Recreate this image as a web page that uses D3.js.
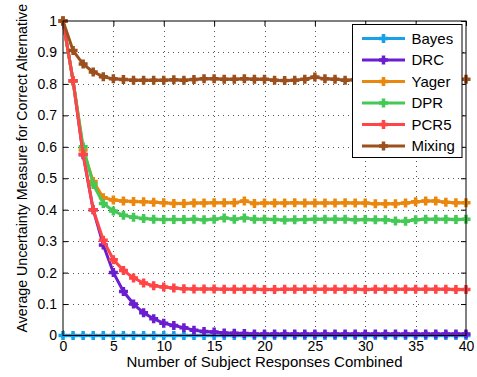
<!DOCTYPE html>
<html><head><meta charset="utf-8">
<script src="https://cdn.jsdelivr.net/npm/d3@7"></script>
<style>body{margin:0;background:#fff}svg{display:block}text{font-family:"Liberation Sans",Arial,sans-serif}</style>
</head><body><div id="chart"></div>
<script>
const xValues = d3.range(0, 41);
const seriesNames = ["Bayes", "DRC", "Yager", "DPR", "PCR5", "Mixing"];
const seriesColors = ["#18a0e8", "#6a1ed0", "#ea870e", "#44c957", "#ff4646", "#9c501e"];
const bayes = new Array(41).fill(0);
const drc = [1.0,0.81,0.575,0.40,0.288,0.20,0.14,0.10,0.072,0.053,0.039,0.032,0.025,0.017,0.013,0.011,0.008,0.007,0.006,0.005,0.005,0.005,0.005,0.005,0.005,0.005,0.005,0.005,0.005,0.005,0.005,0.005,0.005,0.005,0.005,0.005,0.005,0.005,0.005,0.005,0.005];
const yager = [1.0,0.81,0.59,0.49,0.438,0.431,0.428,0.426,0.425,0.424,0.422,0.42,0.42,0.421,0.421,0.422,0.422,0.422,0.428,0.42,0.421,0.421,0.421,0.422,0.421,0.421,0.421,0.421,0.422,0.421,0.421,0.419,0.419,0.419,0.421,0.425,0.428,0.428,0.424,0.422,0.422];
const dpr = [1.0,0.81,0.60,0.48,0.42,0.396,0.382,0.376,0.372,0.37,0.369,0.369,0.369,0.37,0.368,0.37,0.374,0.37,0.374,0.37,0.37,0.369,0.367,0.368,0.369,0.37,0.37,0.37,0.37,0.368,0.369,0.368,0.368,0.364,0.363,0.368,0.37,0.37,0.37,0.369,0.37];
const pcr5 = [1.0,0.81,0.576,0.40,0.303,0.241,0.207,0.183,0.167,0.158,0.154,0.151,0.149,0.148,0.148,0.148,0.147,0.147,0.147,0.147,0.146,0.146,0.147,0.147,0.147,0.147,0.147,0.147,0.147,0.147,0.146,0.147,0.147,0.147,0.147,0.147,0.147,0.147,0.147,0.146,0.146];
const mixing = [1.0,0.906,0.863,0.838,0.823,0.816,0.814,0.812,0.812,0.812,0.812,0.813,0.812,0.814,0.816,0.816,0.815,0.815,0.816,0.815,0.815,0.812,0.811,0.812,0.815,0.822,0.816,0.815,0.812,0.813,0.813,0.813,0.813,0.813,0.813,0.813,0.813,0.813,0.813,0.813,0.815];
const seriesValues = [bayes, drc, yager, dpr, pcr5, mixing];
const xTicks = [0,5,10,15,20,25,30,35,40];
const yTicks = [0,0.1,0.2,0.3,0.4,0.5,0.6,0.7,0.8,0.9,1];
const yTickLabels = ["0","0.1","0.2","0.3","0.4","0.5","0.6","0.7","0.8","0.9","1"];
const xLabel = "Number of Subject Responses Combined";
const yLabel = "Average Uncertainty Measure for Correct Alternative";

const W = 477, H = 377;
const L = 63, R = 466, T = 21, B = 335.5;
const svg = d3.select("#chart").append("svg").attr("width", W).attr("height", H);
const x = d3.scaleLinear().domain([0, 40]).range([L, R]);
const y = d3.scaleLinear().domain([0, 1]).range([B, T]);

// grid
const grid = svg.append("g").attr("stroke", "#555").attr("stroke-width", 1).attr("stroke-dasharray", "1,4");
grid.selectAll(".gx").data(xTicks.slice(1, -1)).enter().append("line")
  .attr("x1", d => Math.round(x(d)) + 0.5).attr("x2", d => Math.round(x(d)) + 0.5).attr("y1", T).attr("y2", B);
grid.selectAll(".gy").data(yTicks.slice(1, -1)).enter().append("line")
  .attr("y1", d => Math.round(y(d)) + 0.5).attr("y2", d => Math.round(y(d)) + 0.5).attr("x1", L).attr("x2", R);

// axes
const fs = 14;
const xAxis = d3.axisBottom(x).tickValues(xTicks).tickSize(-5).tickPadding(6).tickFormat(d3.format("d"));
const gx = svg.append("g").attr("transform", `translate(0,${B})`).call(xAxis);
const yAxis = d3.axisLeft(y).tickValues(yTicks).tickSize(-5).tickPadding(6).tickFormat((d, i) => yTickLabels[i]);
const gy = svg.append("g").attr("transform", `translate(${L},0)`).call(yAxis);
const xAxisTop = d3.axisTop(x).tickValues(xTicks).tickSize(-5).tickFormat("");
svg.append("g").attr("transform", `translate(0,${T})`).call(xAxisTop);
const yAxisRight = d3.axisRight(y).tickValues(yTicks).tickSize(-5).tickFormat("");
svg.append("g").attr("transform", `translate(${R},0)`).call(yAxisRight);
svg.selectAll(".domain").remove();
svg.selectAll(".tick line").attr("stroke", "#000");
svg.selectAll(".tick text").attr("font-size", fs).attr("fill", "#000").attr("font-family", "Liberation Sans, Arial, sans-serif");

// data
const line = d3.line().x((d, i) => x(xValues[i])).y(d => y(d));
const markerPath = "M-4.5,0H4.5M0,-4.5V4.5";
seriesValues.forEach((vals, s) => {
  const g = svg.append("g");
  g.append("path").datum(vals).attr("d", line).attr("fill", "none")
    .attr("stroke", seriesColors[s]).attr("stroke-width", 3).attr("stroke-linejoin", "round");
  g.selectAll("path.m").data(vals).enter().append("path").attr("class", "m")
    .attr("transform", (d, i) => `translate(${x(xValues[i])},${y(d)})`)
    .attr("d", markerPath).attr("stroke", seriesColors[s]).attr("stroke-width", 3.5);
  g.selectAll("rect.m").data(vals).enter().append("rect")
    .attr("x", -2.5).attr("y", -2.5).attr("width", 5).attr("height", 5)
    .attr("transform", (d, i) => `translate(${x(xValues[i])},${y(d)}) rotate(45)`)
    .attr("fill", seriesColors[s]);
});

// frame
svg.append("rect").attr("x", L).attr("y", T).attr("width", R - L).attr("height", B - T)
  .attr("fill", "none").attr("stroke", "#000").attr("stroke-width", 1);

// labels
svg.append("text").attr("x", (L + R) / 2).attr("y", 367).attr("text-anchor", "middle")
  .attr("font-size", 15).text(xLabel);
svg.append("text").attr("transform", `translate(27,${(T + B) / 2 - 10}) rotate(-90)`).attr("text-anchor", "middle")
  .attr("font-size", 14.2).text(yLabel);

// legend
const lg = svg.append("g");
lg.append("rect").attr("x", 352.5).attr("y", 24.5).attr("width", 109.5).attr("height", 133)
  .attr("fill", "#fff").attr("stroke", "#000").attr("stroke-width", 1);
seriesNames.forEach((n, i) => {
  const yy = 38.5 + i * 21.5;
  lg.append("line").attr("x1", 362).attr("x2", 405).attr("y1", yy).attr("y2", yy)
    .attr("stroke", seriesColors[i]).attr("stroke-width", 3);
  lg.append("path").attr("d", markerPath).attr("transform", `translate(383.5,${yy})`)
    .attr("stroke", seriesColors[i]).attr("stroke-width", 3.5);
  lg.append("rect").attr("x", -2.5).attr("y", -2.5).attr("width", 5).attr("height", 5)
    .attr("transform", `translate(383.5,${yy}) rotate(45)`).attr("fill", seriesColors[i]);
  lg.append("text").attr("x", 411.5).attr("y", yy).attr("dy", "0.36em").attr("font-size", 15).text(n);
});
</script></body></html>
